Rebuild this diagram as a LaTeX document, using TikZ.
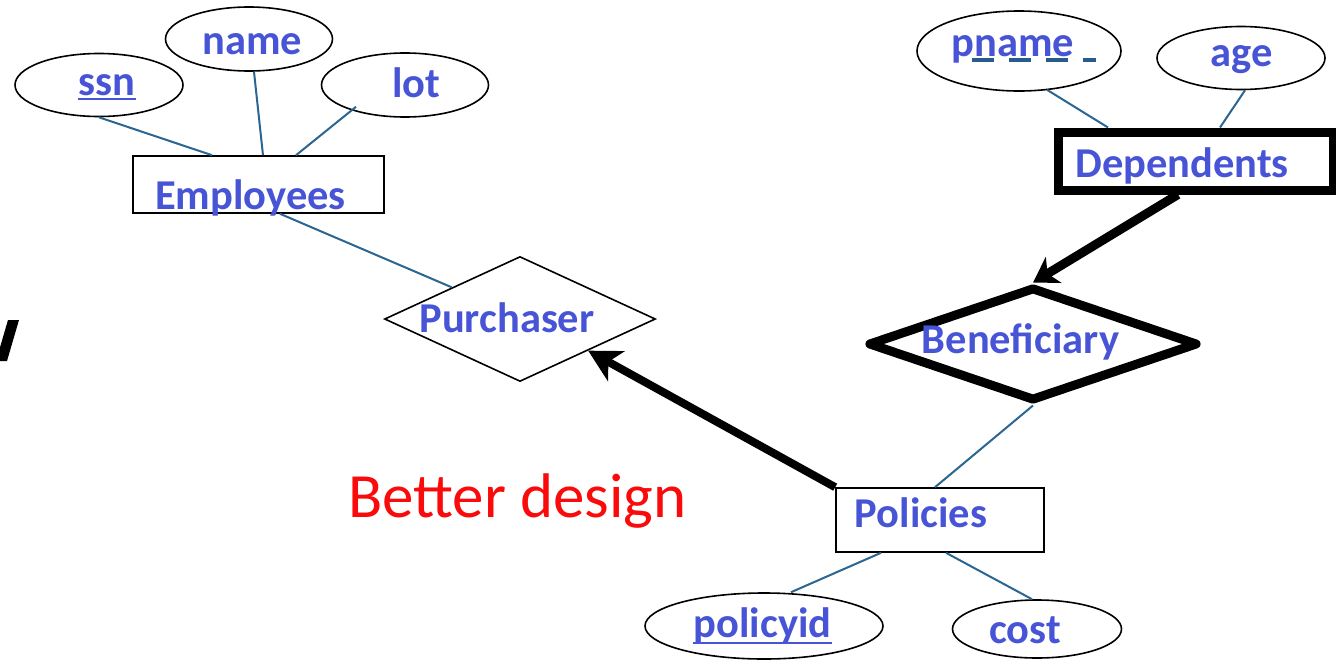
\documentclass[tikz,border=0pt]{standalone}
\usepackage{fontspec}
\setmainfont{Carlito}
\usetikzlibrary{shapes.geometric,arrows.meta}
\definecolor{txtblue}{RGB}{71,84,214}
\definecolor{lnblue}{RGB}{43,101,146}
\definecolor{ulblue}{RGB}{40,92,140}
\definecolor{bred}{RGB}{250,10,10}
\tikzset{
  attr/.style={draw=black,ellipse,line width=1.6pt,inner sep=0pt},
  entity/.style={draw=black,rectangle,line width=1.6pt,inner sep=0pt},
  rel/.style={draw=black,diamond,line width=1.6pt,inner sep=0pt},
  lbl/.style={anchor=base,inner sep=0pt,text=txtblue,font=\bfseries\fontsize{42.5}{50}\selectfont},
  conn/.style={draw=lnblue,line width=2pt},
  thickarrow/.style={draw=black,line width=8pt}
}
\begin{document}
\begin{tikzpicture}[x=1pt,y=-1pt]
\useasboundingbox (0,0) rectangle (1336,659);
\fill[white] (0,0) rectangle (1336,659);
\clip (0,0) rectangle (1336,659);
% attribute ellipses
\node[attr,minimum width=168pt,minimum height=63pt] (ssn) at (99,85) {};
\node[attr,minimum width=167pt,minimum height=64pt] (name) at (249,39) {};
\node[attr,minimum width=167pt,minimum height=64pt] (lot) at (405,85) {};
\node[attr,minimum width=204pt,minimum height=80pt] (pname) at (1019,51) {};
\node[attr,minimum width=168pt,minimum height=63pt] (age) at (1241,58) {};
\node[attr,minimum width=238pt,minimum height=66pt] (policyid) at (764,626) {};
\node[attr,minimum width=169pt,minimum height=58pt] (cost) at (1037,629) {};
% entities
\node[entity,minimum width=251pt,minimum height=57pt] (emp) at (258.5,184.5) {};
\node[entity,minimum width=208pt,minimum height=64pt] (pol) at (940,520) {};
\node[entity,line width=9pt,minimum width=275pt,minimum height=58pt] (dep) at (1195.5,161) {};
% relationships
\node[rel,minimum width=271pt,minimum height=125pt] (purch) at (520,319) {};
\node[rel,line width=9pt,line join=round,minimum width=330pt,minimum height=114pt] (benef) at (1033,344) {};
% labels
\node[lbl] (ssnT) at (107,95) {ssn};
\node[lbl] (nameT) at (252.5,54) {name};
\node[lbl] (lotT) at (416.5,97) {lot};
\node[lbl] (empT) at (250.5,209) {Employees};
\node[lbl] (purchT) at (507,332) {Purchaser};
\node[lbl] (benefT) at (1020.5,353) {Beneficiary};
\node[lbl] (depT) at (1182,177) {Dependents};
\node[lbl] (pnameT) at (1013,56) {pname};
\node[lbl] (ageT) at (1242,66) {age};
\node[lbl] (polT) at (921,527) {Policies};
\node[lbl] (policyidT) at (762.5,637) {policyid};
\node[lbl] (costT) at (1025,643) {cost};
\node[anchor=base,inner sep=0pt,text=bred,font=\fontsize{63}{70}\selectfont] (better) at (517.5,517) {Better design};
% underlines
\draw[txtblue,line width=2pt] ([yshift=-4pt]ssnT.base west) -- ([yshift=-4pt]ssnT.base east);
\draw[txtblue,line width=2pt] ([yshift=-6pt]policyidT.base west) -- ([yshift=-6pt]policyidT.base east);
\draw[ulblue,line width=4pt,dash pattern=on 22pt off 15pt] ([xshift=20pt,yshift=-4pt]pnameT.base west) -- ([xshift=144pt,yshift=-4pt]pnameT.base west);
% connectors
\draw[conn] (ssn.south) -- ([xshift=-46.5pt]emp.north);
\draw[conn] ([xshift=5pt]name.south) -- ([xshift=4.5pt]emp.north);
\draw[conn] ([xshift=-49pt,yshift=11pt]lot.south) -- ([xshift=37.5pt]emp.north);
\draw[conn] ([xshift=21.5pt]emp.south) -- (purch.north west);
\draw[conn] ([xshift=28pt,yshift=2pt]pname.south) -- ([xshift=-87.5pt]dep.north);
\draw[conn] ([xshift=4pt]age.south) -- ([xshift=24.5pt]dep.north);
\draw[conn] (benef.south) -- ([xshift=-5pt]pol.north);
\draw[conn] ([xshift=-59pt]pol.south) -- ([xshift=27pt]policyid.north);
\draw[conn] ([xshift=6pt]pol.south) -- ([xshift=-5pt]cost.north);
% thick arrows
\draw[thickarrow,-{Stealth[length=32pt,width=34pt,inset=9pt]}] (pol.north west) -- (purch.south east);
\draw[thickarrow,line width=9pt,-{Stealth[length=24pt,width=30pt,inset=7pt]}] ([xshift=-17.5pt]dep.south) -- (benef.north);
% clipped glyph at left edge
\fill[black] (8,320) -- (19,320) -- (7,361) -- (-4,361) -- cycle;
\end{tikzpicture}
\end{document}
